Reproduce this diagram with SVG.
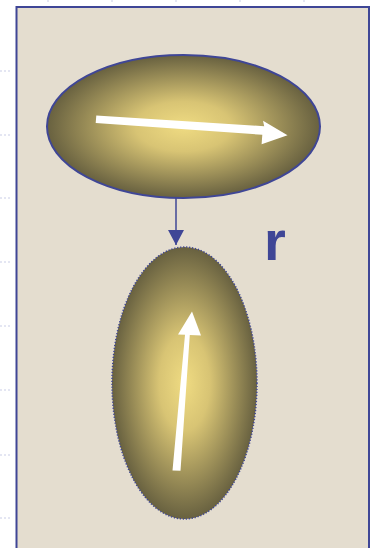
<svg xmlns="http://www.w3.org/2000/svg" width="372" height="548" viewBox="0 0 372 548">
  <defs>
    <radialGradient id="glow" cx="0.5" cy="0.5" r="0.5">
      <stop offset="0" stop-color="#efdb82"/>
      <stop offset="0.35" stop-color="#d8c474"/>
      <stop offset="1" stop-color="#686140"/>
    </radialGradient>
    <marker id="down" markerWidth="15" markerHeight="16" refX="15" refY="8" orient="auto" markerUnits="userSpaceOnUse" viewBox="0 0 15 16">
      <path d="M0,0 L15,8 L0,16 Z" fill="#3f4696"/>
    </marker>
  </defs>
  <style>
    .tick { stroke: #c9cde6; stroke-width: 1; stroke-dasharray: 2 2; }
    .node { fill: url(#glow); stroke: #3f4696; }
    .white { fill: #ffffff; }
    .label { font-family: "Liberation Sans", Arial, sans-serif; font-weight: bold; fill: #3f4696; }
  </style>
  <rect x="0" y="0" width="372" height="548" fill="#ffffff"/>
  <g id="ticks">
    <line class="tick" x1="0" y1="71" x2="12" y2="71"/>
    <line class="tick" x1="0" y1="135" x2="12" y2="135"/>
    <line class="tick" x1="0" y1="198" x2="12" y2="198"/>
    <line class="tick" x1="0" y1="262" x2="12" y2="262"/>
    <line class="tick" x1="0" y1="326" x2="12" y2="326"/>
    <line class="tick" x1="0" y1="390" x2="12" y2="390"/>
    <line class="tick" x1="0" y1="455" x2="12" y2="455"/>
    <line class="tick" x1="0" y1="518" x2="12" y2="518"/>
    <line class="tick" x1="48" y1="0" x2="48" y2="4"/>
    <line class="tick" x1="112" y1="0" x2="112" y2="4"/>
    <line class="tick" x1="176" y1="0" x2="176" y2="4"/>
    <line class="tick" x1="240" y1="0" x2="240" y2="4"/>
    <line class="tick" x1="304" y1="0" x2="304" y2="4"/>
  </g>
  <rect id="frame" x="16.5" y="7" width="352.5" height="550" fill="#e4ddcf" stroke="#3f4696" stroke-width="2"/>
  <g id="connectors">
    <line x1="176" y1="198" x2="176" y2="245" stroke="#3f4696" stroke-width="1.5" marker-end="url(#down)"/>
  </g>
  <g id="node-top">
    <ellipse class="node" cx="183.5" cy="126.5" rx="136.5" ry="71.5" stroke-width="2"/>
    <path class="white" d="M96.3,115.5 L264.2,126.2 L263,120.8 L287.5,135.3 L261.6,144.2 L262.3,134.8 L95.7,123 Z"/>
  </g>
  <g id="node-bottom">
    <ellipse class="node" cx="184.5" cy="383" rx="72.5" ry="136" stroke-width="1.5" stroke-dasharray="1.2 1.8"/>
    <path class="white" d="M172.5,470.5 L180.5,470.7 L189.8,335 L201,335.5 L192,311.5 L178,334.5 L185,334.8 Z"/>
  </g>
  <text class="label" x="264" y="260" font-size="56">r</text>
</svg>
